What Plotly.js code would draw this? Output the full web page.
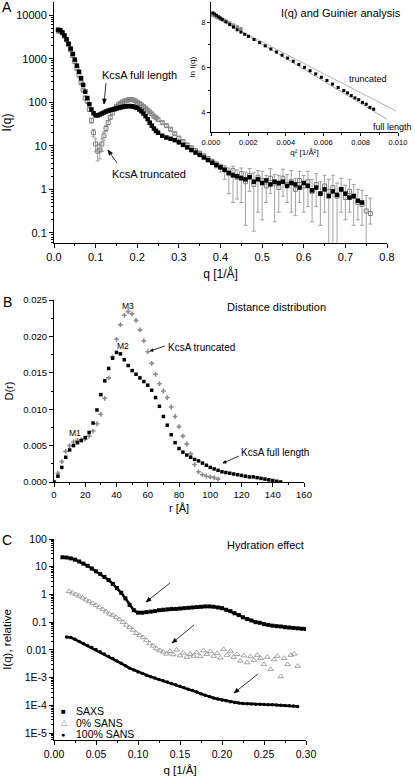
<!DOCTYPE html>
<html><head><meta charset="utf-8">
<script src="https://cdn.plot.ly/plotly-3.0.1.min.js"></script>
<style>html,body{margin:0;padding:0;background:#fff}#chart{width:415px;height:779px}</style>
</head><body><div id="chart"></div>
<script>
// ---------- Panel A: I(q) ----------
const qFull = [0.010,0.015,0.020,0.025,0.030,0.035,0.040,0.045,0.050,0.055,0.060,0.065,0.070,0.075,0.080,0.085,0.090,0.095,0.100,0.105,0.110,0.115,0.120,0.125,0.130,0.135,0.140,0.145,0.150,0.155,0.160,0.165,0.170,0.175,0.180,0.185,0.190,0.195,0.200,0.205,0.210,0.215,0.220,0.225,0.230,0.235,0.240,0.245,0.250,
  0.26,0.27,0.28,0.29,0.30,0.31,0.32,0.33,0.34,0.35,0.36,0.37,0.38,0.39,0.40,0.41,0.42,0.43,0.44,0.45,0.46,0.47,0.48,0.49,0.50,0.51,0.52,0.53,0.54,0.55,0.56,0.57,0.58,0.59,0.60,0.61,0.62,0.63,0.64,0.65,0.66,0.67,0.68,0.69,0.70,0.71,0.72,0.73,0.74];
const IFull = [4600,4500,4000,3400,2800,2200,1700,1280,950,690,500,355,250,175,125,90,68,56,50,50,52,55,58,61,64,66,68,70,72,74,76,78,80,81,82,81,80,77,74,68,62,55,48,41,34,29,25,22,20,
  17,15.5,14.5,13.5,12,10.5,9.2,8,7,6.2,5.4,4.7,4.1,3.6,3.2,2.8,2.4,2.1,2.0,1.8,1.7,1.9,1.5,1.7,1.4,1.6,1.3,1.5,1.4,1.5,1.2,1.4,1.3,1.1,1.4,1.2,0.95,1.1,0.8,1.0,0.7,0.9,0.75,1.0,0.8,0.65,0.7,0.55,0.5];

const qTrunc = [0.010,0.015,0.020,0.025,0.030,0.035,0.040,0.045,0.050,0.055,0.060,0.065,0.070,0.075,0.080,0.085,0.090,0.095,0.100,0.105,0.110,0.115,0.120,0.125,0.130,0.135,0.140,0.145,0.150,0.155,0.160,0.165,0.170,0.175,0.180,0.185,0.190,0.195,0.200,0.205,0.210,0.215,0.220,0.225,0.230,0.235,0.240,0.245,0.250,
  0.26,0.27,0.28,0.29,0.30,0.31,0.32,0.33,0.34,0.35,0.36,0.37,0.38,0.39,0.40,0.41,0.42,0.43,0.44,0.45,0.46,0.47,0.48,0.49,0.50,0.51,0.52,0.53,0.54,0.55,0.56,0.57,0.58,0.59,0.60,0.61,0.62,0.63,0.64,0.65,0.66,0.67,0.68,0.69,0.70,0.71,0.72,0.73,0.74,0.75,0.76];
const ITrunc = [4400,4300,3900,3300,2700,2100,1600,1180,850,600,420,285,190,125,105,68,38,20,11,7.5,8,11,17,25,34,45,57,69,80,89,96,102,107,111,114,115,113,108,101,94,87,80,73,66,60,54,48,44,40,
  34,29,24,19,15,12.5,10.5,9,7.8,6.8,5.9,5.1,4.4,3.8,3.3,2.9,2.3,2.7,1.9,2.3,1.5,2.1,1.3,1.9,1.6,1.2,1.8,1.4,1.1,1.8,1.3,1.5,1.0,1.6,1.2,1.5,0.9,1.3,0.8,1.2,0.9,1.1,0.7,1.0,0.65,0.9,0.7,0.5,0.45,0.32,0.28];
const truncErrPlus = [600,500,400,300,240,180,130,100,70,50,35,24,16,11,8,6,5,4,3.5,3,3,3.5,4,4,4,4,4,4,4,4,4,4,4,4,4,4,4,4,4,4,4,4,4,4,3.5,3.5,3,3,3,
  2,1.8,1.5,1.3,1.1,0.9,0.8,0.7,0.6,0.6,0.5,0.5,0.5,0.5,0.5,
  0.6,0.8,0.7,0.9,0.8,1.0,0.9,1.1,0.8,1.0,0.9,1.2,0.8,1.0,1.1,0.9,1.2,0.8,1.0,0.9,1.1,0.8,1.0,0.7,0.9,0.8,1.0,0.7,0.8,0.6,0.8,0.6,0.5,0.5,0.4,0.35];
const truncErrMinus = [600,500,400,300,240,180,130,100,70,50,35,24,16,11,8,6,5,4,3.5,3,3,3.5,4,4,4,4,4,4,4,4,4,4,4,4,4,4,4,4,4,4,4,4,4,4,3.5,3.5,3,3,3,
  2,1.8,1.5,1.3,1.1,0.9,0.8,0.7,0.6,0.6,0.5,0.5,0.6,0.7,0.8,
  1.2,1.5,2.2,1.3,1.8,1.35,1.2,1.19,1.6,1.4,0.7,1.0,1.22,0.8,1.1,0.8,1.2,0.75,1.1,0.9,1.1,0.72,0.9,0.65,0.9,0.89,1.09,0.69,0.7,0.45,0.6,0.55,0.3,0.3,0.3,0.12];

// ---------- Inset: Guinier ----------
const guinierQ2 = [0.0001,0.0002,0.0003,0.0004,0.0005,0.0006,0.0008,0.0010,0.0012,0.0014,0.0016,0.0018,0.0020,0.0023,0.0026,0.0029,0.0032,0.0035,0.0038,0.0041,0.0044,0.0047,0.0050,0.0053,0.0056,0.0059,0.0062,0.0065,0.0068,0.0071,0.0073,0.0075,0.0077,0.0079,0.0081,0.0083,0.0085,0.0087];
const guinierLnI = [8.42,8.37,8.31,8.25,8.19,8.13,8.02,7.90,7.79,7.67,7.57,7.47,7.38,7.24,7.10,6.96,6.82,6.69,6.55,6.42,6.28,6.14,6.01,5.86,5.72,5.57,5.43,5.27,5.12,4.98,4.88,4.76,4.66,4.58,4.46,4.38,4.24,4.16];
const guinierTruncQ2 = [0.0001,0.0002,0.0003,0.0004,0.0005,0.0006,0.0007,0.0008,0.0010,0.0012,0.0014,0.0016];
const guinierTruncLnI = [8.33,8.29,8.25,8.21,8.17,8.13,8.09,8.05,7.97,7.88,7.80,7.72];
const fitFullQ2 = [0, 0.0094];
const fitFullLnI = [8.40, 3.72];
const fitTruncQ2 = [0, 0.0099];
const fitTruncLnI = [8.30, 4.08];

// ---------- Panel B: D(r) ----------
const rFull = [0,2.5,5,7.5,10,12.5,15,17.5,20,22.5,25,27.5,30,32.5,35,37.5,40,42.5,45,47.5,50,52.5,55,57.5,60,62.5,65,67.5,70,72.5,75,77.5,80,82.5,85,87.5,90,92.5,95,97.5,100,102.5,105,107.5,110,112.5,115,117.5,120,122.5,125,127.5,130,132.5,135,137.5,140,142.5,145];
const DFull = [0.0000,0.0008,0.0020,0.0034,0.0044,0.0050,0.0054,0.0057,0.0061,0.0068,
  0.0081,0.0099,0.0120,0.0139,0.0156,0.0170,0.0178,0.0176,0.0168,0.0160,
  0.0153,0.0148,0.0143,0.0138,0.0133,0.0126,0.0116,0.0104,0.0090,0.0078,
  0.0065,0.0054,0.0046,0.0041,0.0037,0.0034,0.0031,0.0029,0.0026,0.0023,
  0.0020,0.0018,0.0016,0.0014,0.0013,0.0012,0.0011,0.0010,0.0009,0.0008,
  0.0007,0.0007,0.0006,0.0005,0.0004,0.0003,0.0002,0.0001,0.0000];
const rTrunc = [0,2.5,5,7.5,10,12.5,15,17.5,20,22.5,25,27.5,30,32.5,35,37.5,40,42.5,45,47.5,50,52.5,55,57.5,60,62.5,65,67.5,70,72.5,75,77.5,80,82.5,85,87.5,90,92.5,95,97.5,100,102.5,105];
const DTrunc = [0,0.0012,0.0028,0.0042,0.0050,0.0055,0.0057,0.0058,0.0059,0.0063,
  0.0070,0.0080,0.0093,0.0115,0.0143,0.0172,0.0196,0.0216,0.0229,0.0234,
  0.0231,0.0222,0.0209,0.0194,0.0179,0.0163,0.0148,0.0135,0.0125,0.0116,
  0.0103,0.0090,0.0076,0.0063,0.0052,0.0039,0.0024,0.0014,0.0010,0.0008,
  0.0007,0.0006,0.0004];

// ---------- Panel C: hydration effect ----------
const qSaxs = [0.010,0.015,0.020,0.025,0.030,0.035,0.040,0.045,0.050,0.055,0.060,0.065,0.070,0.075,0.080,0.085,0.090,0.095,0.100,0.105,0.110,0.115,0.120,0.125,0.130,0.135,0.140,0.145,0.150,0.155,0.160,0.165,0.170,0.175,0.180,0.185,0.190,0.195,0.200,0.205,0.210,0.215,0.220,0.225,0.230,0.235,0.240,0.245,0.250,0.255,0.260,0.265,0.270,0.275,0.280,0.285,0.290,0.295,0.300];
const ISaxs = [22,21.5,20,18,15.5,13,10.8,8.6,6.8,5.5,4.3,3.3,2.4,1.7,1.15,0.72,0.42,0.27,0.22,0.22,0.23,0.24,0.25,0.27,0.28,0.29,0.30,0.30,0.31,0.32,0.33,0.34,0.35,0.36,0.37,0.37,0.36,0.34,0.32,0.28,0.25,0.21,0.18,0.15,0.13,0.115,0.10,0.095,0.085,0.08,0.075,0.072,0.07,0.066,0.064,0.062,0.06,0.058,0.057];
const qSans0 = [0.018,0.022,0.026,0.030,0.034,0.038,0.042,0.046,0.050,0.054,0.058,0.062,0.066,0.070,0.074,0.078,0.082,0.086,0.090,0.094,0.098,0.102,0.106,0.110,0.114,0.118,0.122,0.126,0.130,0.134,0.138,0.142,0.146,0.150,0.154,0.158,0.162,0.166,0.170,0.174,0.178,0.182,0.186,0.190,0.194,0.198,0.202,0.206,0.210,0.214,0.218,0.222,0.226,0.230,0.234,0.238,0.242,0.246,0.250,0.254,0.258,0.262,0.266,0.270,0.274,0.278,0.282,0.286,0.290];
const ISans0 = [1.30,1.15,1.00,0.88,0.76,0.65,0.56,0.48,0.41,0.35,
  0.29,0.24,0.20,0.18,0.15,0.125,0.10,0.08,0.065,0.052,
  0.040,0.034,0.028,0.022,0.017,0.014,0.011,0.0095,0.0085,0.0072,
  0.0090,0.0068,0.0100,0.0062,0.0078,0.0055,0.0070,0.0060,0.0080,0.0058,
  0.0095,0.0070,0.0088,0.0060,0.0075,0.0052,0.0105,0.0065,0.0090,0.0055,
  0.0070,0.0040,0.0062,0.0035,0.0058,0.0042,0.0065,0.0050,0.0030,0.0055,
  0.0020,0.0045,0.0060,0.0011,0.0050,0.0030,0.0065,0.0072,0.0026];
const qSans100 = [0.015,0.020,0.025,0.030,0.035,0.040,0.045,0.050,0.055,0.060,0.065,0.070,0.075,0.080,0.085,0.090,0.095,0.100,0.105,0.110,0.115,0.120,0.125,0.130,0.135,0.140,0.145,0.150,0.155,0.160,0.165,0.170,0.175,0.180,0.185,0.190,0.195,0.200,0.205,0.210,0.215,0.220,0.225,0.230,0.235,0.240,0.245,0.250,0.255,0.260,0.265,0.270,0.275,0.280,0.285,0.290];
const ISans100 = [0.029,0.028,0.024,0.020,0.017,0.0145,0.0123,0.0103,0.0086,0.0071,0.0058,0.0049,0.0040,0.0033,0.0027,0.0022,0.0019,0.0016,0.0014,0.00122,0.00108,0.00096,0.00086,0.00077,0.00069,0.00062,0.00055,0.00049,0.00043,0.00038,0.00034,0.00030,0.00026,0.00023,0.00021,0.000185,0.000170,0.000157,0.000145,0.000135,0.000127,0.000121,0.000117,0.000114,0.000112,0.000110,0.000109,0.000108,0.000106,0.000105,0.000103,0.000101,0.000099,0.000097,0.000094,0.000090];

// ---------- tick labels ----------
const yTickValsA = [0.1,1,10,100,1000,10000];
const yTickTextA = ['0.1','1','10','100','1000','10000'];
const yTickValsC = [1e-5,1e-4,1e-3,0.01,0.1,1,10,100];
const yTickTextC = ['1E-5','1E-4','1E-3','0.01','0.1','1','10','100'];
const legendNames = ['SAXS','0% SANS','100% SANS'];

// ---------- layout helpers ----------
const W = 415, H = 779;
const fx = x => x / W, fy = y => 1 - y / H;
const FONT = '"Liberation Sans", Arial, Helvetica, sans-serif';
function logMinor(lo, hi) { const v = []; for (let e = lo; e < hi; e++) for (let k = 2; k <= 9; k++) v.push(k * Math.pow(10, e)); return v; }
function ax(extra) {
  return Object.assign({showline:true, linecolor:'#000', linewidth:1, ticks:'outside', ticklen:4, tickwidth:1, tickcolor:'#000',
    showgrid:false, zeroline:false, automargin:false, mirror:false}, extra);
}
const GRAY = '#808080';

const traces = [
  {x:qTrunc, y:ITrunc, xaxis:'x', yaxis:'y', type:'scatter', mode:'markers', name:'KcsA truncated',
   marker:{symbol:'square-open', size:4, color:GRAY, line:{width:1, color:GRAY}},
   error_y:{type:'data', symmetric:false, array:truncErrPlus, arrayminus:truncErrMinus, color:'#8c8c8c', thickness:0.8, width:2}},
  {x:qFull, y:IFull, xaxis:'x', yaxis:'y', type:'scatter', mode:'markers', name:'KcsA full length',
   marker:{symbol:'square', size:4.5, color:'#000'}},
  {x:fitFullQ2, y:fitFullLnI, xaxis:'x2', yaxis:'y2', type:'scatter', mode:'lines', line:{color:'#999', width:0.9}, name:'fit full length'},
  {x:fitTruncQ2, y:fitTruncLnI, xaxis:'x2', yaxis:'y2', type:'scatter', mode:'lines', line:{color:'#aaa', width:0.9}, name:'fit truncated'},
  {x:guinierTruncQ2, y:guinierTruncLnI, xaxis:'x2', yaxis:'y2', type:'scatter', mode:'markers', marker:{symbol:'square', size:3.5, color:'#888'}, name:'Guinier truncated'},
  {x:guinierQ2, y:guinierLnI, xaxis:'x2', yaxis:'y2', type:'scatter', mode:'markers', marker:{symbol:'square', size:3, color:'#000'}, name:'Guinier full length'},
  {x:rTrunc, y:DTrunc, xaxis:'x3', yaxis:'y3', type:'scatter', mode:'markers', marker:{symbol:'cross', size:4, color:'#8c8c8c'}, name:'KcsA truncated'},
  {x:rFull, y:DFull, xaxis:'x3', yaxis:'y3', type:'scatter', mode:'markers', marker:{symbol:'square', size:3.5, color:'#000'}, name:'KcsA full length'},
  {x:qSaxs, y:ISaxs, xaxis:'x4', yaxis:'y4', type:'scatter', mode:'lines+markers', line:{color:'#000', width:2.5}, marker:{symbol:'square', size:4, color:'#000'}, name:legendNames[0]},
  {x:qSans0, y:ISans0, xaxis:'x4', yaxis:'y4', type:'scatter', mode:'markers', marker:{symbol:'triangle-up-open', size:5, color:'#8c8c8c', line:{width:0.8}}, name:legendNames[1]},
  {x:qSans100, y:ISans100, xaxis:'x4', yaxis:'y4', type:'scatter', mode:'lines+markers', line:{color:'#000', width:2.5}, marker:{symbol:'circle', size:3.5, color:'#000'}, name:legendNames[2]}
];

function txt(t, x, y, size, extra) {
  return Object.assign({text:t, x:fx(x), y:fy(y), xref:'paper', yref:'paper', showarrow:false,
    font:{family:FONT, size:size, color:'#000'}, xanchor:'center', yanchor:'middle'}, extra || {});
}
// arrows drawn as shapes: a shaft line plus an optional filled head
const shapes = [];
function arrow(hx, hy, tx, ty, headLen, headHalf) {
  shapes.push({type:'line', xref:'paper', yref:'paper', x0:fx(tx), y0:fy(ty), x1:fx(hx), y1:fy(hy), line:{color:'#000', width:0.8}});
  if (headLen > 0) {
    const dx = hx - tx, dy = hy - ty, L = Math.hypot(dx, dy), ux = dx / L, uy = dy / L;
    const bx = hx - ux * headLen, by = hy - uy * headLen, nx = -uy, ny = ux;
    const p = [[hx, hy], [bx + nx * headHalf, by + ny * headHalf], [bx - nx * headHalf, by - ny * headHalf]];
    shapes.push({type:'path', xref:'paper', yref:'paper',
      path:'M ' + p.map(q => fx(q[0]) + ' ' + fy(q[1])).join(' L ') + ' Z',
      fillcolor:'#000', line:{color:'#000', width:0.5}});
  }
}
arrow(104, 104, 106, 83, 5, 2);
arrow(108, 150, 117, 163, 5, 2);
arrow(150, 351, 165, 346, 3, 1.5);
arrow(223, 463, 239, 456, 3, 1.5);
arrow(146, 602, 170, 583, 5, 2);
arrow(172, 643, 194, 625, 5, 2);
arrow(234, 693, 258, 674, 5, 2);

const annotations = [
  txt('A', 7, 7, 14), txt('B', 7, 302, 14), txt('C', 7, 540, 14),
  txt('I(q) and Guinier analysis', 341, 13, 11),
  txt('KcsA full length', 139, 75, 11),
  txt('KcsA truncated', 149, 174, 11),
  txt('truncated', 368, 79, 9),
  txt('full length', 392, 127, 9),
  txt('Distance distribution', 276, 307, 11),
  txt('M3', 128, 306, 8.5), txt('M2', 123, 346, 8.5), txt('M1', 75, 433, 8.5),
  txt('KcsA truncated', 201, 347, 10),
  txt('KcsA full length', 275, 453, 10),
  txt('Hydration effect', 265, 545, 11),
  txt('\u25A0', 63, 711, 8),
  txt(legendNames[0], 74, 711, 10.5, {xanchor:'left'}),
  txt('\u25B3', 64, 722.5, 8, {font:{family:'DejaVu Sans', size:8, color:'#8c8c8c'}}),
  txt(legendNames[1], 74, 722.5, 10.5, {xanchor:'left'}),
  txt('\u25CF', 63, 734, 7),
  txt(legendNames[2], 74, 734, 10.5, {xanchor:'left'})
];

const layout = {
  width:W, height:H, margin:{l:0, r:0, t:0, b:0}, paper_bgcolor:'#fff', plot_bgcolor:'rgba(0,0,0,0)',
  showlegend:false, font:{family:FONT, color:'#000'},
  xaxis: ax({domain:[fx(54), fx(387)], anchor:'y', range:[0, 0.8], tick0:0, dtick:0.1, tickformat:'.1f',
    minor:{ticks:'outside', ticklen:2, dtick:0.05, tickcolor:'#000'}, tickfont:{size:11},
    title:{text:'q [1/Å]', font:{size:12}, standoff:7}}),
  yaxis: ax({domain:[fy(243), fy(2)], anchor:'x', type:'log', range:[-1.23, 4.3], tickmode:'array', tickvals:yTickValsA, ticktext:yTickTextA,
    minor:{ticks:'outside', ticklen:2, tickmode:'array', tickvals:logMinor(-2, 5), tickcolor:'#000'}, tickfont:{size:11},
    title:{text:'I(q)', font:{size:12}, standoff:6}}),
  xaxis2: ax({domain:[fx(211), fx(398)], anchor:'y2', range:[0, 0.010], tick0:0, dtick:0.002, tickformat:'.3f', ticklen:3,
    minor:{ticks:'outside', ticklen:2, dtick:0.001, tickcolor:'#000'}, tickfont:{size:7.5},
    title:{text:'q\u00B2 [1/Å\u00B2]', font:{size:8}, standoff:3}}),
  yaxis2: ax({domain:[fy(132), fy(2)], anchor:'x2', range:[3.15, 8.9], tick0:0, dtick:2, ticklen:3,
    minor:{ticks:'outside', ticklen:2, dtick:1, tickcolor:'#000'}, tickfont:{size:7.5},
    title:{text:'ln I(q)', font:{size:8}, standoff:4}}),
  xaxis3: ax({domain:[fx(54), fx(304)], anchor:'y3', range:[0, 160], tick0:0, dtick:20,
    minor:{ticks:'outside', ticklen:2, dtick:10, tickcolor:'#000'}, tickfont:{size:9.5},
    title:{text:'r [Å]', font:{size:11}, standoff:4}}),
  yaxis3: ax({domain:[fy(482), fy(300)], anchor:'x3', range:[0, 0.025], tick0:0, dtick:0.005, tickformat:'.3f',
    minor:{ticks:'outside', ticklen:2, dtick:0.0025, tickcolor:'#000'}, tickfont:{size:9.5},
    title:{text:'D(r)', font:{size:11}, standoff:7}}),
  xaxis4: ax({domain:[fx(54), fx(306)], anchor:'y4', range:[0, 0.30], tick0:0, dtick:0.05, tickformat:'.2f',
    minor:{ticks:'outside', ticklen:2, dtick:0.025, tickcolor:'#000'}, tickfont:{size:10.5},
    title:{text:'q [1/Å]', font:{size:11.5}, standoff:7}}),
  yaxis4: ax({domain:[fy(740), fy(539)], anchor:'x4', type:'log', range:[-5.25, 2], tickmode:'array', tickvals:yTickValsC, ticktext:yTickTextC,
    minor:{ticks:'outside', ticklen:2, tickmode:'array', tickvals:logMinor(-6, 2), tickcolor:'#000'}, tickfont:{size:10.5},
    title:{text:'I(q), relative', font:{size:11.5}, standoff:10}}),
  annotations: annotations,
  shapes: shapes
};

Plotly.newPlot('chart', traces, layout, {staticPlot:true, displayModeBar:false});
</script>
</body></html>
